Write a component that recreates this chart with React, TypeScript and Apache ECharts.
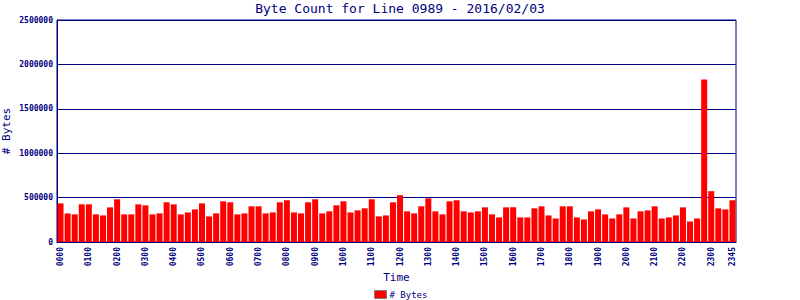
import React, { useEffect, useRef } from "react";
import * as echarts from "echarts";

const TITLE = "Byte Count for Line 0989 - 2016/02/03";
const SERIES_NAME = "# Bytes";
const X_NAME = "Time";
const Y_NAME = "# Bytes";

const categories: string[] = [
  "0000", "0015", "0030", "0045", "0100", "0115", "0130", "0145",
  "0200", "0215", "0230", "0245", "0300", "0315", "0330", "0345",
  "0400", "0415", "0430", "0445", "0500", "0515", "0530", "0545",
  "0600", "0615", "0630", "0645", "0700", "0715", "0730", "0745",
  "0800", "0815", "0830", "0845", "0900", "0915", "0930", "0945",
  "1000", "1015", "1030", "1045", "1100", "1115", "1130", "1145",
  "1200", "1215", "1230", "1245", "1300", "1315", "1330", "1345",
  "1400", "1415", "1430", "1445", "1500", "1515", "1530", "1545",
  "1600", "1615", "1630", "1645", "1700", "1715", "1730", "1745",
  "1800", "1815", "1830", "1845", "1900", "1915", "1930", "1945",
  "2000", "2015", "2030", "2045", "2100", "2115", "2130", "2145",
  "2200", "2215", "2230", "2245", "2300", "2315", "2330", "2345",
];

const byteCounts: number[] = [
  435000, 322000, 311000, 424000, 424000, 311000, 299000, 390000,
  481000, 311000, 311000, 424000, 413000, 311000, 322000, 447000,
  424000, 311000, 333000, 367000, 435000, 288000, 322000, 458000,
  447000, 311000, 322000, 402000, 402000, 322000, 333000, 447000,
  470000, 333000, 322000, 447000, 481000, 322000, 345000, 413000,
  458000, 333000, 356000, 379000, 481000, 288000, 299000, 447000,
  527000, 345000, 322000, 402000, 492000, 345000, 311000, 458000,
  470000, 345000, 333000, 345000, 390000, 311000, 277000, 390000,
  390000, 277000, 277000, 379000, 402000, 299000, 265000, 402000,
  402000, 277000, 254000, 345000, 367000, 311000, 265000, 311000,
  390000, 265000, 345000, 356000, 402000, 265000, 277000, 299000,
  390000, 231000, 265000, 1830000, 572000, 379000, 367000, 470000,
];

const yMax = 2500000;
const yStep = 500000;

const NAVY = "#000080";
const RED = "#ff0000";
const MONO = "'DejaVu Sans Mono', 'Liberation Mono', monospace";

export default function App() {
  const ref = useRef<HTMLDivElement>(null);

  useEffect(() => {
    if (!ref.current) return;
    const chart = echarts.init(ref.current, null, { renderer: "svg" });
    const lastIdx = categories.length - 1;
    chart.setOption({
      animation: false,
      backgroundColor: "#ffffff",
      title: {
        text: TITLE,
        left: "center",
        top: 2,
        padding: 0,
        textStyle: {
          color: NAVY,
          fontFamily: MONO,
          fontSize: 13,
          fontWeight: "normal",
        },
      },
      legend: {
        data: [SERIES_NAME],
        left: 374,
        top: 290,
        padding: 0,
        itemWidth: 12,
        itemHeight: 8,
        itemGap: 3,
        icon: "rect",
        itemStyle: { borderColor: "#808080", borderWidth: 1 },
        textStyle: { color: NAVY, fontFamily: MONO, fontSize: 9, padding: [0, 0, 0, -2] },
      },
      grid: {
        left: 57,
        right: 64,
        top: 20,
        bottom: 58,
        show: true,
        borderColor: NAVY,
        borderWidth: 1,
        containLabel: false,
        outerBoundsMode: "none",
      },
      xAxis: {
        type: "category",
        data: categories,
        name: X_NAME,
        nameLocation: "middle",
        nameGap: 30,
        nameMoveOverlap: false,
        nameTextStyle: { color: NAVY, fontFamily: MONO, fontSize: 11 },
        axisLine: { show: true, lineStyle: { color: NAVY, width: 1 } },
        axisTick: { show: false },
        axisLabel: {
          rotate: 90,
          margin: 5,
          color: NAVY,
          fontFamily: MONO,
          fontSize: 8,
          fontWeight: "bold",
          interval: (index: number) => index % 4 === 0 || index === lastIdx,
        },
        splitLine: { show: false },
      },
      yAxis: {
        type: "value",
        min: 0,
        max: yMax,
        interval: yStep,
        name: Y_NAME,
        nameLocation: "middle",
        nameGap: 45,
        nameMoveOverlap: false,
        nameTextStyle: { color: NAVY, fontFamily: MONO, fontSize: 11 },
        axisLine: { show: true, lineStyle: { color: NAVY, width: 1 } },
        axisTick: { show: false },
        axisLabel: {
          margin: 4,
          color: NAVY,
          fontFamily: MONO,
          fontSize: 8,
          fontWeight: "bold",
          formatter: (v: number) => String(v),
        },
        splitLine: { show: true, lineStyle: { color: NAVY, width: 1 } },
      },
      series: [
        {
          name: SERIES_NAME,
          type: "bar",
          data: byteCounts,
          barWidth: 6,
          itemStyle: { color: RED },
        },
      ],
    });
    return () => chart.dispose();
  }, []);

  return (
    <div
      ref={ref}
      style={{ position: "absolute", left: 0, top: 0, width: 800, height: 300 }}
    />
  );
}
